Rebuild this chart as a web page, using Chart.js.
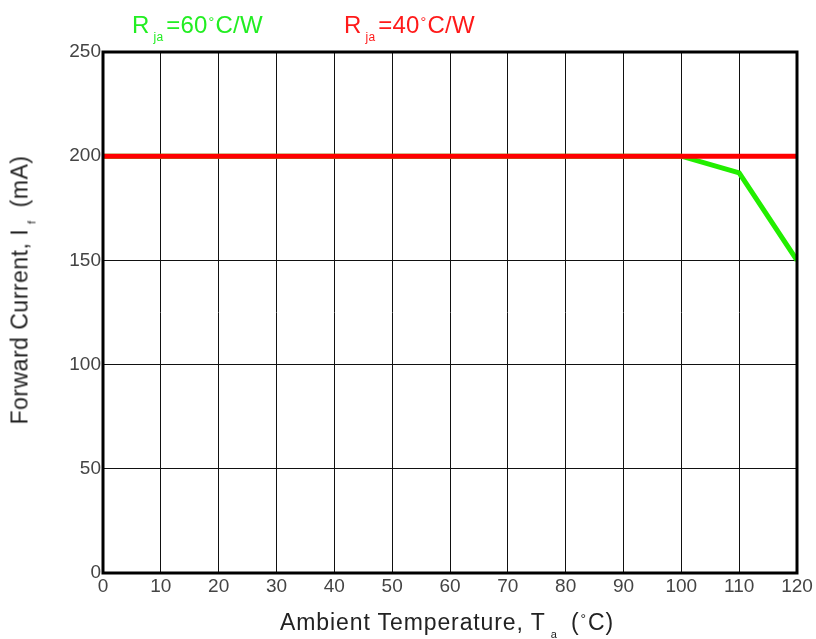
<!DOCTYPE html>
<html>
<head>
<meta charset="utf-8">
<script src="https://cdn.jsdelivr.net/npm/chart.js@4/dist/chart.umd.min.js"></script>
<style>
  html, body { margin: 0; padding: 0; background: #fff; }
  #wrap { position: relative; width: 816px; height: 639px; overflow: hidden; }
  #c { position: absolute; left: 0; top: 0; }
  .t { position: absolute; font-family: "Liberation Sans", Arial, sans-serif; white-space: nowrap; line-height: 1; }
  .t sub { font-size: 12px; vertical-align: -8px; margin: 0 3px 0 4px; }
  .t sup { font-size: 0.6em; vertical-align: 0.45em; margin: 0 1px; }
  .leg { font-size: 24px; top: 13px; letter-spacing: 0.2px; }
  .ttl { font-size: 23px; color: #222; }
  .ttl sub { font-size: 11px; vertical-align: -8px; margin: 0 6px 0 5px; }
</style>
</head>
<body>
<div id="wrap">
  <canvas id="c" width="816" height="639"></canvas>
  <div class="t leg" style="left:132px; color:#22ee22;">R<sub>ja</sub>=60<sup>°</sup>C/W</div>
  <div class="t leg" style="left:344px; color:#ff1a1a;">R<sub>ja</sub>=40<sup>°</sup>C/W</div>
  <div class="t ttl" style="left:280px; top:611px; letter-spacing:0.9px;">Ambient Temperature, T<sub>a</sub> (<sup>°</sup>C)</div>
  <div class="t ttl" id="ytitle" style="left:23px; top:290px; letter-spacing:0.5px; transform: translate(-50%,-50%) rotate(-90deg);">Forward Current, I<sub>f</sub> (mA)</div>
</div>
<script>
const xTicks = [0, 10, 20, 30, 40, 50, 60, 70, 80, 90, 100, 110, 120];
const yTicks = [0, 50, 100, 150, 200, 250];
const redTemps = [0, 120];
const redCurrent = [200, 200];
const greenTemps = [0, 100, 110, 120];
const greenCurrent = [200, 200, 192, 150];
const seriesNames = ['Rja=40°C/W', 'Rja=60°C/W'];

const toPts = (xs, ys) => xs.map((x, i) => ({ x: x, y: ys[i] }));

const frame = {
  id: 'frame',
  afterDatasetsDraw(chart) {
    const a = chart.chartArea, ctx = chart.ctx;
    ctx.save();
    ctx.strokeStyle = '#000';
    ctx.lineWidth = 3;
    ctx.strokeRect(a.left, a.top, a.right - a.left, a.bottom - a.top);
    ctx.restore();
  }
};

new Chart(document.getElementById('c'), {
  type: 'line',
  data: {
    datasets: [
      { label: seriesNames[0], data: toPts(redTemps, redCurrent), borderColor: '#ff0000', borderWidth: 5, pointRadius: 0, order: 1 },
      { label: seriesNames[1], data: toPts(greenTemps, greenCurrent), borderColor: '#22ee00', borderWidth: 5, pointRadius: 0, order: 2 }
    ]
  },
  options: {
    responsive: false,
    animation: false,
    layout: { padding: { top: 52, right: 19, left: 0, bottom: 0 } },
    plugins: { legend: { display: false }, tooltip: { enabled: false } },
    scales: {
      x: {
        type: 'linear', min: 0, max: 120,
        afterBuildTicks: s => { s.ticks = xTicks.map(v => ({ value: v })); },
        afterFit: s => { s.height = 66; },
        grid: { color: '#111', lineWidth: 1, drawTicks: false },
        border: { display: false },
        ticks: { padding: 2, color: '#444', font: { family: 'Liberation Sans', size: 19 }, maxRotation: 0 }
      },
      y: {
        min: 0, max: 250,
        afterBuildTicks: s => { s.ticks = yTicks.map(v => ({ value: v })); },
        afterFit: s => { s.width = 103; },
        grid: { color: '#111', lineWidth: 1, drawTicks: false },
        border: { display: false },
        ticks: { padding: 2, color: '#444', font: { family: 'Liberation Sans', size: 19 } }
      }
    }
  },
  plugins: [frame]
});
</script>
</body>
</html>
